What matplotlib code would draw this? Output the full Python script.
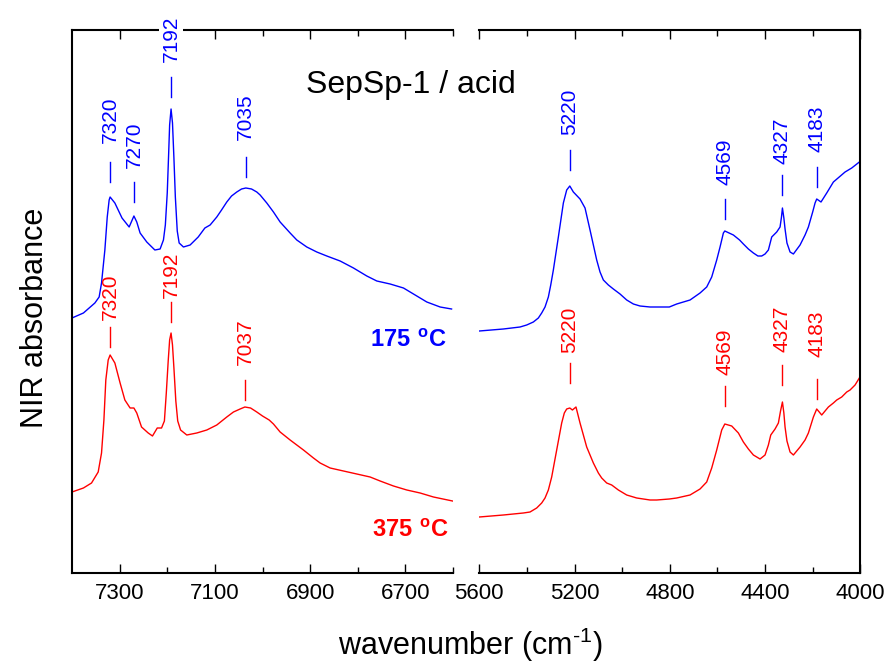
import matplotlib
matplotlib.use("Agg")
import matplotlib.pyplot as plt

plt.rcParams['font.family'] = ['Liberation Sans', 'DejaVu Sans']
plt.rcParams['mathtext.fontset'] = 'custom'
plt.rcParams['mathtext.rm'] = 'Liberation Sans'
plt.rcParams['mathtext.bf'] = 'Liberation Sans:bold'

BLUE = '#0000FF'
RED = '#FF0000'

# --- 175 C spectrum (absorbance, arbitrary offset) ---
wn_175_oh = [7400, 7376, 7352, 7343, 7338, 7331, 7326, 7322, 7320, 7310, 7295,
             7280, 7270, 7264, 7257, 7243, 7226, 7215, 7208, 7204, 7200, 7197,
             7195, 7192, 7189, 7186, 7183, 7179, 7175, 7166, 7152, 7135, 7121,
             7110, 7096, 7086, 7075, 7065, 7054, 7044, 7035, 7023, 7012, 7005,
             6998, 6991, 6977, 6963, 6942, 6928, 6907, 6886, 6865, 6837, 6809,
             6781, 6760, 6732, 6704, 6683, 6655, 6627, 6603]
abs_175_oh = [2.55, 2.60, 2.70, 2.76, 2.90, 3.23, 3.56, 3.73, 3.76, 3.70, 3.55,
              3.46, 3.57, 3.51, 3.40, 3.31, 3.23, 3.24, 3.33, 3.48, 3.80, 4.20,
              4.48, 4.64, 4.50, 4.15, 3.76, 3.42, 3.30, 3.26, 3.28, 3.36, 3.45,
              3.48, 3.56, 3.63, 3.71, 3.77, 3.81, 3.84, 3.85, 3.84, 3.81, 3.78,
              3.74, 3.70, 3.61, 3.51, 3.40, 3.33, 3.26, 3.21, 3.17, 3.12, 3.05,
              2.97, 2.92, 2.89, 2.85, 2.79, 2.71, 2.66, 2.64]

wn_175_comb = [5600, 5499, 5429, 5401, 5373, 5352, 5338, 5324, 5310, 5300, 5289,
               5268, 5247, 5233, 5220, 5205, 5177, 5156, 5135, 5121, 5107, 5093,
               5079, 5058, 5037, 5009, 4981, 4953, 4925, 4883, 4855, 4802, 4771,
               4715, 4673, 4645, 4624, 4603, 4589, 4575, 4569, 4533, 4507, 4491,
               4470, 4449, 4430, 4414, 4400, 4386, 4372, 4351, 4337, 4331, 4327,
               4321, 4316, 4308, 4295, 4281, 4253, 4232, 4218, 4200, 4190, 4183,
               4165, 4141, 4113, 4064, 4036, 4004]
abs_175_comb = [2.42, 2.44, 2.46, 2.48, 2.51, 2.55, 2.60, 2.66, 2.76, 2.88, 3.03,
                3.36, 3.70, 3.83, 3.87, 3.81, 3.74, 3.65, 3.43, 3.28, 3.13, 3.01,
                2.93, 2.88, 2.84, 2.79, 2.73, 2.69, 2.67, 2.66, 2.66, 2.66, 2.69,
                2.73, 2.80, 2.86, 2.96, 3.13, 3.26, 3.40, 3.42, 3.38, 3.33, 3.29,
                3.24, 3.20, 3.17, 3.17, 3.19, 3.23, 3.36, 3.41, 3.46, 3.56, 3.65,
                3.55, 3.44, 3.30, 3.21, 3.19, 3.28, 3.38, 3.46, 3.61, 3.70, 3.74,
                3.71, 3.80, 3.91, 4.01, 4.05, 4.11]

# --- 375 C spectrum ---
wn_375_oh = [7400, 7376, 7359, 7345, 7338, 7333, 7329, 7324, 7320, 7310, 7299,
             7289, 7278, 7270, 7264, 7254, 7240, 7231, 7221, 7212, 7206, 7202,
             7198, 7195, 7192, 7189, 7186, 7182, 7178, 7172, 7159, 7138, 7117,
             7096, 7075, 7061, 7047, 7037, 7025, 7012, 7000, 6986, 6977, 6963,
             6942, 6914, 6893, 6879, 6858, 6830, 6802, 6774, 6753, 6725, 6697,
             6669, 6641, 6601]
abs_375_oh = [0.81, 0.85, 0.90, 1.01, 1.20, 1.53, 1.93, 2.13, 2.18, 2.10, 1.90,
              1.73, 1.65, 1.65, 1.60, 1.46, 1.40, 1.37, 1.45, 1.45, 1.52, 1.80,
              2.12, 2.33, 2.40, 2.28, 2.05, 1.72, 1.52, 1.43, 1.38, 1.40, 1.43,
              1.48, 1.56, 1.61, 1.64, 1.66, 1.65, 1.61, 1.57, 1.53, 1.49, 1.41,
              1.33, 1.23, 1.15, 1.10, 1.05, 1.02, 0.99, 0.96, 0.92, 0.87, 0.83,
              0.80, 0.76, 0.72]

wn_375_comb = [5600, 5499, 5415, 5387, 5359, 5338, 5324, 5310, 5296, 5275, 5254,
               5243, 5233, 5220, 5209, 5194, 5177, 5163, 5149, 5121, 5100, 5086,
               5065, 5044, 5016, 4981, 4939, 4883, 4855, 4802, 4771, 4715, 4673,
               4645, 4624, 4603, 4582, 4569, 4540, 4512, 4491, 4470, 4449, 4421,
               4400, 4386, 4376, 4358, 4344, 4335, 4327, 4321, 4316, 4308, 4295,
               4281, 4253, 4232, 4218, 4197, 4183, 4162, 4155, 4134, 4113, 4099,
               4078, 4057, 4043, 4022, 4004]
abs_375_comb = [0.56, 0.58, 0.60, 0.61, 0.65, 0.70, 0.75, 0.83, 0.96, 1.23, 1.50,
                1.60, 1.64, 1.65, 1.63, 1.66, 1.50, 1.38, 1.26, 1.10, 1.00, 0.95,
                0.90, 0.88, 0.83, 0.78, 0.75, 0.73, 0.73, 0.74, 0.75, 0.78, 0.84,
                0.91, 1.05, 1.23, 1.43, 1.49, 1.47, 1.40, 1.31, 1.24, 1.18, 1.14,
                1.18, 1.28, 1.38, 1.44, 1.50, 1.62, 1.71, 1.60, 1.46, 1.32, 1.21,
                1.18, 1.26, 1.33, 1.40, 1.56, 1.64, 1.58, 1.60, 1.66, 1.70, 1.73,
                1.76, 1.81, 1.83, 1.88, 1.95]

# peak labels: wavenumber, bottom of the marker dash, bottom of the number
peaks_175 = [7320, 7270, 7192, 7035, 5220, 4569, 4327, 4183]
dash_175 = [3.91, 3.71, 4.76, 3.96, 4.03, 3.54, 3.78, 3.86]
text_175 = [4.30, 4.05, 5.11, 4.33, 4.38, 3.88, 4.09, 4.21]

peaks_375 = [7320, 7192, 7037, 5220, 4569, 4327, 4183]
dash_375 = [2.26, 2.51, 1.73, 1.90, 1.67, 1.88, 1.74]
text_375 = [2.53, 2.75, 2.08, 2.20, 1.98, 2.21, 2.16]

fig = plt.figure(figsize=(8.89, 6.68), dpi=100)
bottom, top = 1 - 573 / 668, 1 - 30 / 668
ax1 = fig.add_axes([72 / 889, bottom, 381 / 889, top - bottom])
ax2 = fig.add_axes([479.3 / 889, bottom, 381 / 889, top - bottom])

ax1.set_xlim(7400, 6600)
ax2.set_xlim(5600, 4000)
ax1.set_xticks([7300, 7100, 6900, 6700])
ax1.set_xticks([7200, 7000, 6800, 6600], minor=True)
ax2.set_xticks([5600, 5200, 4800, 4400, 4000])
ax2.set_xticks([5400, 5000, 4600, 4200], minor=True)
for ax in (ax1, ax2):
    ax.set_ylim(0, 5.43)
    ax.set_yticks([])
    ax.tick_params(which='both', direction='in', top=True, bottom=True,
                   labelsize=16, pad=7, width=1.0)
    ax.tick_params(which='major', length=6.5)
    ax.tick_params(which='minor', length=4)
    for s in ax.spines.values():
        s.set_linewidth(1.5)
ax1.spines['right'].set_visible(False)
ax2.spines['left'].set_visible(False)

ax1.plot(wn_175_oh, abs_175_oh, color=BLUE, lw=1.0, solid_joinstyle='round')
ax2.plot(wn_175_comb, abs_175_comb, color=BLUE, lw=1.0, solid_joinstyle='round')
ax1.plot(wn_375_oh, abs_375_oh, color=RED, lw=1.0, solid_joinstyle='round')
ax2.plot(wn_375_comb, abs_375_comb, color=RED, lw=1.0, solid_joinstyle='round')


def label_peaks(peaks, dash, text, color):
    for wn, y0, yt in zip(peaks, dash, text):
        ax = ax1 if wn > 6000 else ax2
        ax.plot([wn, wn], [y0, y0 + 0.2], color=color, lw=1.0)
        t = ax.text(wn, yt, str(wn), color=color, fontsize=15, rotation=90,
                    rotation_mode='anchor', ha='left', va='center',
                    clip_on=False, zorder=4)
        if yt + 0.45 > 5.43:
            t.set_bbox(dict(facecolor='white', edgecolor='none', pad=2))


label_peaks(peaks_175, dash_175, text_175, BLUE)
label_peaks(peaks_375, dash_375, text_375, RED)

fig.text(306 / 889, 1 - 93 / 668, 'SepSp-1 / acid', fontsize=23,
         ha='left', va='baseline')
fig.text(370 / 889, 1 - 347 / 668, r'$\mathbf{175\ ^{o}C}$', color=BLUE,
         fontsize=17, ha='left', va='baseline')
fig.text(372 / 889, 1 - 537 / 668, r'$\mathbf{375\ ^{o}C}$', color=RED,
         fontsize=17, ha='left', va='baseline')

fig.text(470 / 889, 1 - 655 / 668, r'wavenumber (cm$^{\text{-}1}$)',
         fontsize=22, ha='center', va='baseline')
fig.text(35 / 889, 1 - 318 / 668, 'NIR absorbance', fontsize=22,
         rotation=90, ha='center', va='center')

fig.savefig('out.png', dpi=100)
